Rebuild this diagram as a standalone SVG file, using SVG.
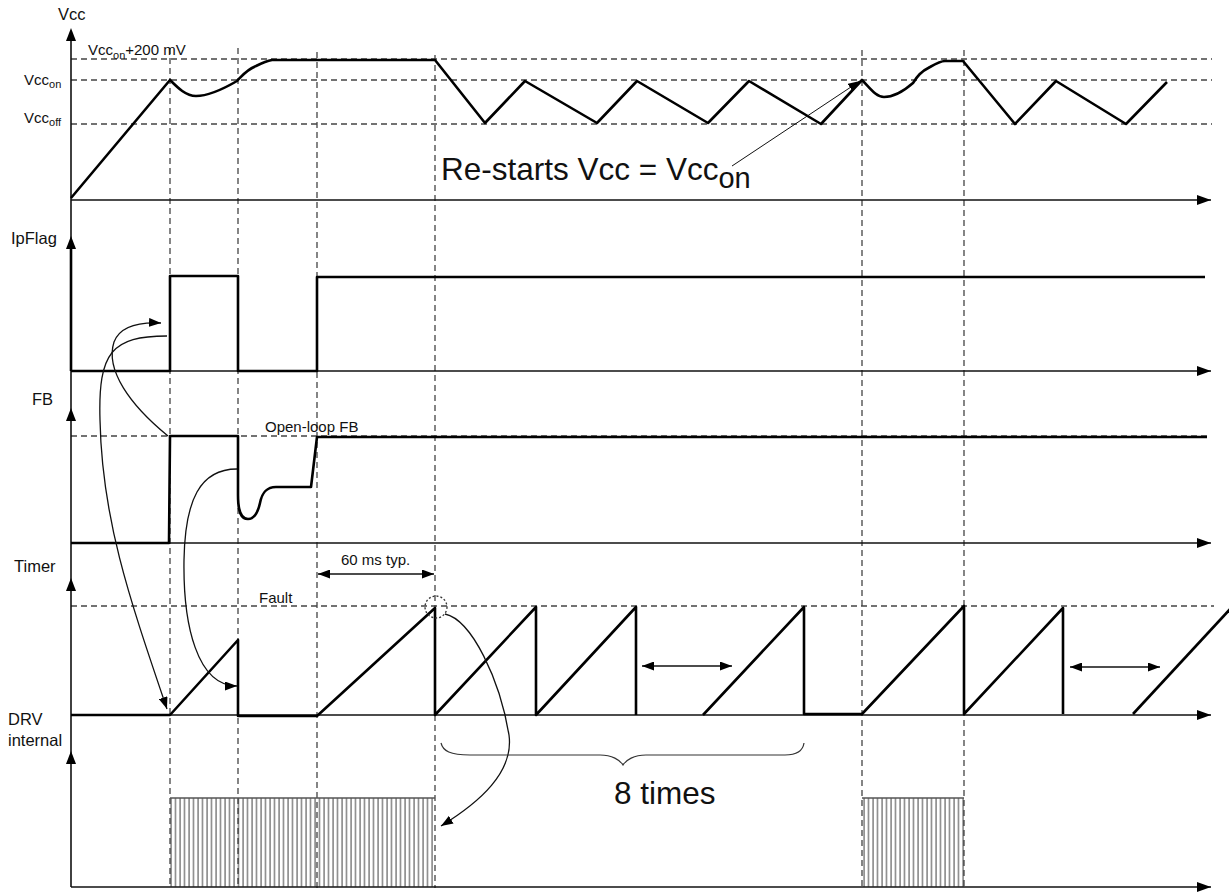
<svg xmlns="http://www.w3.org/2000/svg" width="1229" height="892" viewBox="0 0 1229 892">
<style>
text{font-family:"Liberation Sans",Arial,sans-serif;fill:#111}
.lbl{font-size:16.5px}
.sm{font-size:15px}
.big{font-size:31.5px}
.axis{stroke:#111;stroke-width:1.6;fill:none}
.dash{stroke:#444;stroke-width:1.3;stroke-dasharray:6,4;fill:none}
.wave{stroke:#000;stroke-width:2.6;fill:none;stroke-linejoin:round}
.thin{stroke:#111;stroke-width:1.3;fill:none}
</style>
<defs>
<marker id="ax" viewBox="0 0 14 10" refX="14" refY="5" markerWidth="14" markerHeight="10" markerUnits="userSpaceOnUse" orient="auto"><path d="M0,0 L14,5 L0,10 z" fill="#000"/></marker>
<marker id="ah" viewBox="0 0 12 9" refX="12" refY="4.5" markerWidth="12" markerHeight="9" markerUnits="userSpaceOnUse" orient="auto-start-reverse"><path d="M0,0 L12,4.5 L0,9 z" fill="#000"/></marker>
<pattern id="hatch" x="170" y="0" width="4.5" height="20" patternUnits="userSpaceOnUse"><line x1="1" y1="0" x2="1" y2="20" stroke="#222" stroke-width="0.9"/></pattern>
</defs>

<g id="grid">
<line class="dash" x1="71" y1="59" x2="1212" y2="59"/>
<line class="dash" x1="71" y1="80" x2="1212" y2="80"/>
<line class="dash" x1="71" y1="124" x2="1212" y2="124"/>
<line class="dash" x1="71" y1="436" x2="1210" y2="436"/>
<line class="dash" x1="71" y1="606" x2="1214" y2="606"/>
<line class="dash" x1="170" y1="48" x2="170" y2="888"/>
<line class="dash" x1="238" y1="48" x2="238" y2="888"/>
<line class="dash" x1="317" y1="52" x2="317" y2="888"/>
<line class="dash" x1="435" y1="55" x2="435" y2="888"/>
<line class="dash" x1="862" y1="50" x2="862" y2="888"/>
<line class="dash" x1="964" y1="50" x2="964" y2="888"/>
</g>

<g id="axes">
<line class="axis" x1="71" y1="34" x2="71" y2="887"/>
<line x1="71" y1="243" x2="71" y2="371" stroke="#000" stroke-width="2.6"/>
<polygon points="71,28 66,41 76,41" fill="#000"/>
<polygon points="71,236 66,249 76,249" fill="#000"/>
<polygon points="71,408 66,421 76,421" fill="#000"/>
<polygon points="71,578 66,591 76,591" fill="#000"/>
<polygon points="71,751 66,764 76,764" fill="#000"/>
<line class="axis" x1="71" y1="200" x2="1211" y2="200" marker-end="url(#ax)"/>
<line class="axis" x1="71" y1="371" x2="1211" y2="371" marker-end="url(#ax)"/>
<line class="axis" x1="71" y1="543" x2="1211" y2="543" marker-end="url(#ax)"/>
<line class="axis" x1="71" y1="715" x2="1211" y2="715" marker-end="url(#ax)"/>
<line class="axis" x1="71" y1="887" x2="1211" y2="887" marker-end="url(#ax)"/>
</g>

<g id="labels">
<text class="lbl" x="58" y="20">Vcc</text>
<text class="sm" x="88" y="55">Vcc<tspan font-size="11" dy="4">on</tspan><tspan dy="-4">+200 mV</tspan></text>
<text class="sm" x="24" y="85">Vcc<tspan font-size="11" dy="3">on</tspan></text>
<text class="sm" x="24" y="123">Vcc<tspan font-size="11" dy="3">off</tspan></text>
<text class="lbl" x="11" y="244">IpFlag</text>
<text class="lbl" x="32" y="405">FB</text>
<text class="lbl" x="14" y="572">Timer</text>
<text class="lbl" x="8" y="725">DRV</text>
<text class="lbl" x="8" y="746">internal</text>
<text class="sm" x="265" y="432">Open-loop FB</text>
<text class="sm" x="259" y="603">Fault</text>
<text class="sm" x="341" y="565">60 ms typ.</text>
<text class="big" x="441" y="180">Re-starts Vcc = Vcc<tspan font-size="29" dy="8">on</tspan></text>
<text class="big" x="614" y="804">8 times</text>
</g>

<g id="vcc-wave">
<path class="wave" d="M71,198 L170,80 C178,88 186,96 196,96 C210,96 225,88 237,81 C242,76 246,70 256,66 C262,63 266,61 272,60 L435,60 L485,123 L525,81 L597,123 L637,81 L708,123 L749,81 L821,124 L862,80 C870,88 876,97 884,97 C895,97 905,90 913,83 C917,77 920,72 930,67 C937,63 942,61 945,61 L963,61 L1015,124 L1056,81 L1126,124 L1167,82"/>
</g>

<g id="ipflag-wave">
<path class="wave" d="M71,371 L170,371 L170,276 L238,276 L238,371 L317,371 L317,277 L1205,277"/>
</g>

<g id="fb-wave">
<path class="wave" d="M71,543 L169,543 L170,436 L238,436 L238,495 C238,512 241,519 248,519 C255,519 258,512 260,503 C262,493 266,487 276,487 L311,487 L317,437 L1207,437"/>
</g>

<g id="timer-wave">
<path class="wave" d="M71,715 L170,715 L238,640 L238,716 L317,716 L435,608 L435,715 L536,607 L536,715 L636,607 L636,715"/>
<path class="wave" d="M703,715 L804,607 L804,714 L862,714 L964,606 L964,714 L1063,608 L1063,714"/>
<path class="wave" d="M1133,714 L1232,607"/>
<circle cx="436" cy="607" r="11" fill="none" stroke="#333" stroke-width="1.3" stroke-dasharray="2,2"/>
</g>

<g id="drv-wave">
<rect x="170" y="798" width="265" height="89" fill="url(#hatch)"/>
<line x1="170" y1="798" x2="435" y2="798" stroke="#555" stroke-width="1.3"/>
<rect x="862" y="798" width="102" height="89" fill="url(#hatch)"/>
<line x1="862" y1="798" x2="964" y2="798" stroke="#555" stroke-width="1.3"/>
</g>

<g id="connectors">
<path class="thin" d="M168,436 C130,405 105,370 114,342 C120,326 140,322 161,323" marker-end="url(#ah)"/>
<path class="thin" d="M167,336 C112,336 98,352 100,420 C102,520 130,600 167,709" marker-end="url(#ah)"/>
<path class="thin" d="M237,469 C200,469 185,500 184,560 C183,625 197,686 237,686" marker-end="url(#ah)"/>
<path class="thin" d="M445,614 C472,620 500,680 509,735 C514,772 480,802 441,826" marker-end="url(#ah)"/>
<line x1="732" y1="166" x2="860" y2="81" stroke="#111" stroke-width="1" marker-end="url(#ah)"/>
<line class="thin" x1="318" y1="574" x2="434" y2="574" marker-start="url(#ah)" marker-end="url(#ah)"/>
<line class="thin" x1="642" y1="666" x2="732" y2="666" marker-start="url(#ah)" marker-end="url(#ah)"/>
<line class="thin" x1="1070" y1="667" x2="1160" y2="667" marker-start="url(#ah)" marker-end="url(#ah)"/>
<path stroke="#333" stroke-width="1.2" fill="none" d="M441,743 C443,751 450,755 470,755 L600,755 C612,755 620,760 623,765 C626,760 634,755 646,755 L785,755 C797,755 803,750 804,743"/>
</g>
</svg>
